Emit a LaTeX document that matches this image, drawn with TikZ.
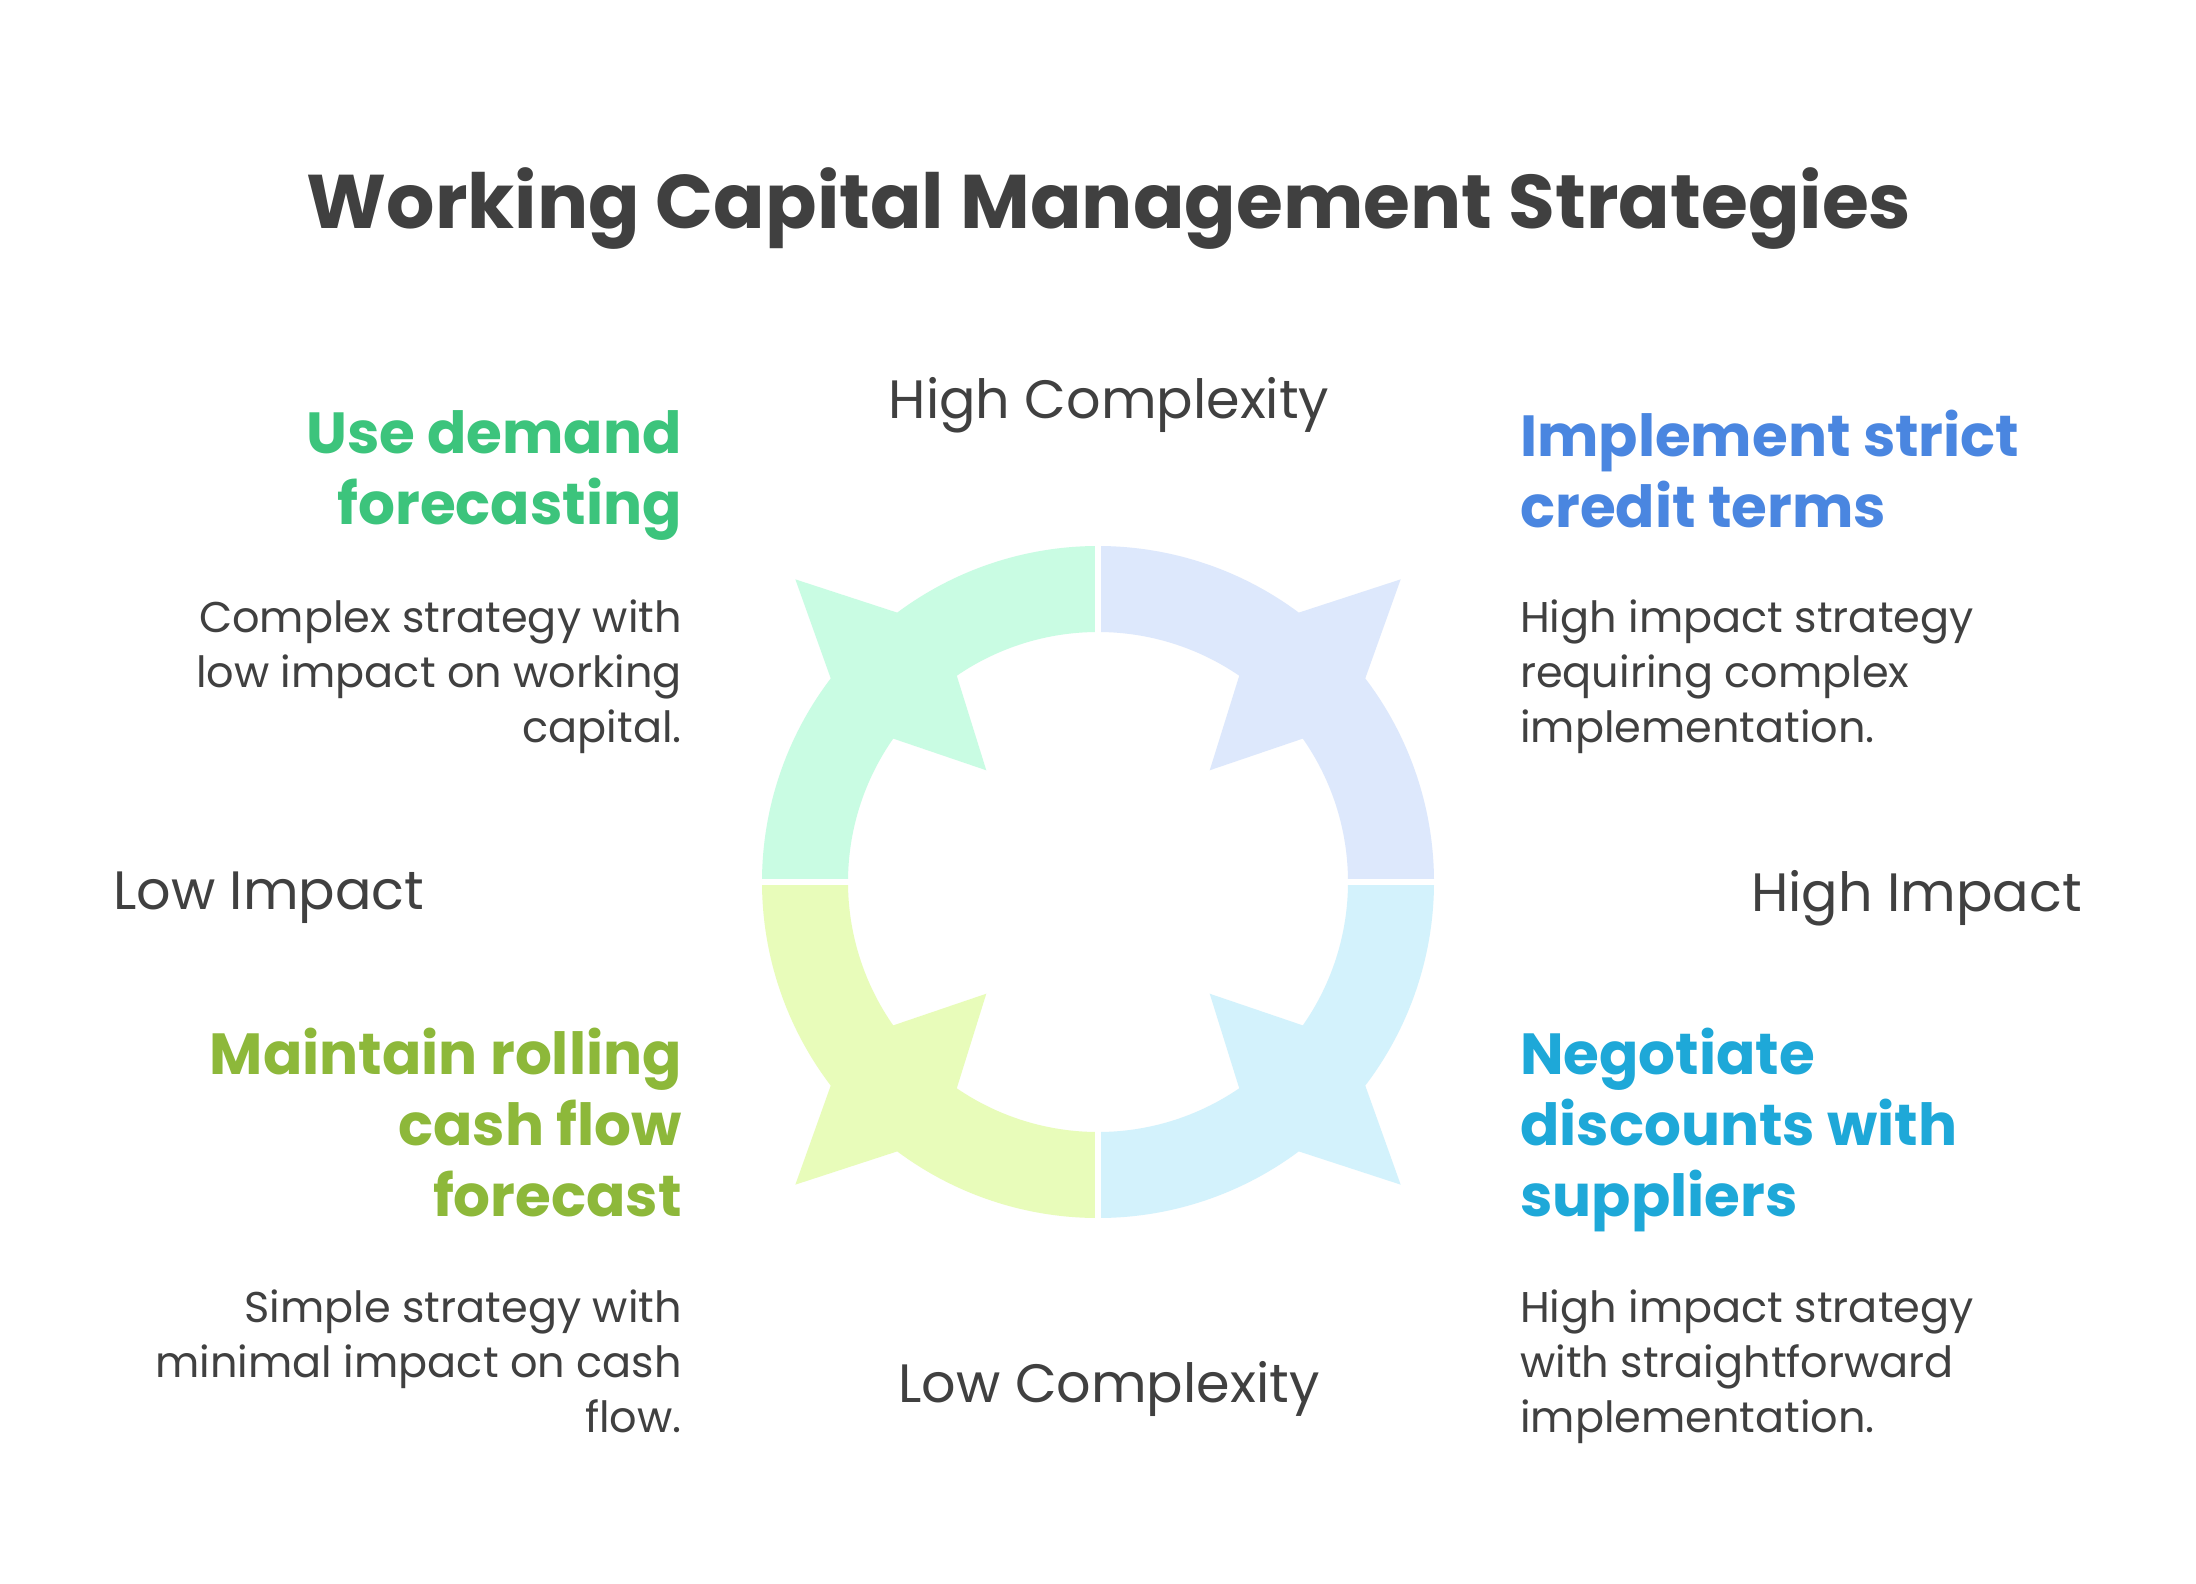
\documentclass[tikz,border=0pt]{standalone}
\usepackage{fontspec}
\setmainfont{Poppins}
\definecolor{txt}{HTML}{404040}
\definecolor{qtl}{HTML}{C9FCE3}
\definecolor{qtr}{HTML}{DDE8FC}
\definecolor{qbr}{HTML}{D3F2FC}
\definecolor{qbl}{HTML}{E8FCBA}
\definecolor{ctl}{HTML}{3CC47C}
\definecolor{ctr}{HTML}{4A86E0}
\definecolor{cbr}{HTML}{1EA8D8}
\definecolor{cbl}{HTML}{8DB83A}
\newcommand{\quadshape}{(90:336) arc[start angle=90,end angle=126.7,radius=336] -- (135:428) -- (142.7:336) arc[start angle=142.7,end angle=180,radius=336] -- (180:250) arc[start angle=180,end angle=145,radius=250] -- (135:158) -- (124.4:250) arc[start angle=124.4,end angle=90,radius=250] -- cycle}
\tikzset{
 axis/.style={text=txt,inner sep=0,font=\fontsize{54}{58}\selectfont},
 head/.style={inner sep=0,font=\fontsize{58}{71}\selectfont\bfseries,align=#1},
 desc/.style={inner sep=0,text=txt,font=\fontsize{43}{55}\selectfont,align=#1},
}
\begin{document}
\begin{tikzpicture}[x=1pt,y=1pt]
\useasboundingbox[fill=white] (0,0) rectangle (2196,-1584);
\node[text=txt,font=\fontsize{76}{84}\selectfont\bfseries] (title) at (1109,-209) {Working Capital Management Strategies};
\begin{scope}[shift={(1098,-882)}]
 \fill[qtl] \quadshape;
 \fill[qtr,xscale=-1] \quadshape;
 \fill[qbl,yscale=-1] \quadshape;
 \fill[qbr,xscale=-1,yscale=-1] \quadshape;
 \draw[white,line width=6] (0,-345) -- (0,345) (-345,0) -- (345,0);
\end{scope}
\node[axis] (hc) at (1109,-405) {High Complexity};
\node[axis] (lc) at (1109,-1389) {Low Complexity};
\node[axis,anchor=west] (li) at (113,-898) {Low Impact};
\node[axis,anchor=east] (hi) at (2082,-898) {High Impact};
\node[head=right,text=ctl,anchor=north east] (h1) at (682,-410) {Use demand\\forecasting};
\node[desc=right,anchor=north east] (d1) at (682,-600) {Complex strategy with\\low impact on working\\capital.};
\node[head=left,text=ctr,anchor=north west] (h2) at (1520,-410) {Implement strict\\credit terms};
\node[desc=left,anchor=north west] (d2) at (1520,-600) {High impact strategy\\requiring complex\\implementation.};
\node[head=right,text=cbl,anchor=north east] (h3) at (682,-1028) {Maintain rolling\\cash flow\\forecast};
\node[desc=right,anchor=north east] (d3) at (682,-1290) {Simple strategy with\\minimal impact on cash\\flow.};
\node[head=left,text=cbr,anchor=north west] (h4) at (1520,-1028) {Negotiate\\discounts with\\suppliers};
\node[desc=left,anchor=north west] (d4) at (1520,-1290) {High impact strategy\\with straightforward\\implementation.};
\end{tikzpicture}
\end{document}
